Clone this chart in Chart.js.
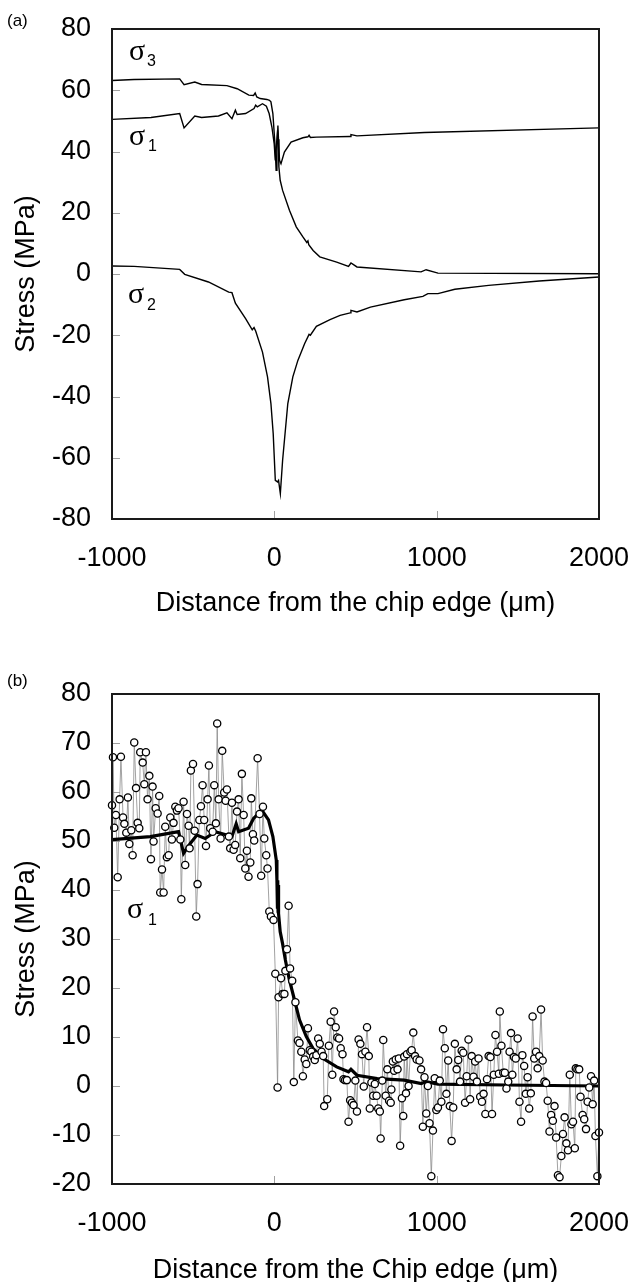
<!DOCTYPE html>
<html><head><meta charset="utf-8">
<script src="https://cdn.jsdelivr.net/npm/chart.js@4.4.0/dist/chart.umd.min.js"></script>
<style>
html,body{margin:0;padding:0;background:#fff;}
body{width:632px;height:1282px;position:relative;overflow:hidden;}
#wa{position:absolute;left:0;top:0;width:632px;height:620px;}
#wb{position:absolute;left:0;top:620px;width:632px;height:662px;}
canvas{display:block;}
</style></head><body>
<div id="wa"><canvas id="ca" width="632" height="620"></canvas></div>
<div id="wb"><canvas id="cb" width="632" height="662"></canvas></div>
<script>
// ---------------- data ----------------
const xTicks = [-1000, 0, 1000, 2000];
const yTicksA = [-80, -60, -40, -20, 0, 20, 40, 60, 80];
const yTicksB = [-20, -10, 0, 10, 20, 30, 40, 50, 60, 70, 80];
const xTitleA = 'Distance from the chip edge (\u03bcm)';
const xTitleB = 'Distance from the Chip edge (\u03bcm)';
const yTitle = 'Stress (MPa)';

// panel (a): principal stresses  [distance (um), stress (MPa)]
const sigma3A = [[-1000,63.2],[-864,63.5],[-583,63.7],[-556,61.8],[-490,62.7],[-448,61.9],[-292,61.5],[-229,60.5],[-157,58.4],[-128,58.3],[-118,59.1],[-108,57.8],[-87,57.3],[-46,57.0],[-30,56.7],[-21,56.2],[-9,52.4],[5,41.5],[11,33.9],[16,40],[22,48.5],[27,42],[32,37.1],[41,36.0],[62,39.8],[103,43.1],[176,44.5],[207,44.8],[214,45.3],[222,44.6],[259,44.7],[467,44.9],[472,45.5],[509,45.1],[925,46.2],[2000,47.7]];
const sigma1A = [[-1000,50.5],[-760,51.1],[-583,52.4],[-556,47.7],[-490,51.6],[-448,51.1],[-344,51.6],[-292,52.6],[-261,50.7],[-240,53.5],[-229,52.1],[-177,52.4],[-125,54.0],[-115,55.1],[-105,54.6],[-73,55.6],[-49,54.8],[-32,52.4],[-15,48.0],[-1,42.6],[6,37.1],[13,42.0],[20,46.9],[24,44],[28,35.0],[36,30.6],[51,27.3],[93,20.8],[135,15.4],[176,12.1],[200,10.3],[207,10.8],[212,9.6],[239,7.7],[280,5.6],[384,3.9],[457,2.5],[472,3.6],[509,2.3],[904,0.7],[935,1.4],[1008,0.3],[2000,0.1]];
const sigma2A = [[-1000,2.6],[-864,2.5],[-583,1.5],[-552,-0.1],[-406,-2.6],[-281,-5.9],[-261,-6.1],[-240,-9.5],[-177,-14.6],[-136,-18.2],[-125,-17.5],[-115,-18.6],[-73,-25.5],[-42,-33.6],[-21,-42.3],[-7,-52.1],[6,-67.4],[20,-67.9],[26,-67.4],[37,-71.7],[51,-60.8],[83,-42.3],[114,-33.6],[145,-28.2],[187,-22.7],[214,-19.7],[222,-20.0],[259,-17.1],[343,-14.9],[405,-13.5],[467,-12.7],[472,-11.9],[509,-12.4],[592,-10.8],[800,-8.4],[915,-7.3],[946,-6.4],[1008,-6.4],[1112,-5.0],[1320,-3.7],[1632,-2.3],[2000,-1.0]];

// panel (b): measured sigma1 and fitted curve
const sigma1Measured = [[-1000,57.3],[-994,67.1],[-986,52.7],[-976,55.3],[-965,42.6],[-953,58.5],[-945,67.2],[-932,54.8],[-924,53.5],[-912,51.7],[-902,58.9],[-893,49.4],[-881,52.2],[-873,47.1],[-863,70.1],[-852,60.8],[-842,53.7],[-832,52.6],[-826,68.1],[-811,66.0],[-801,61.6],[-791,68.1],[-781,58.5],[-770,63.3],[-760,46.3],[-750,61.1],[-744,49.9],[-731,56.7],[-719,55.6],[-709,59.2],[-703,39.5],[-692,44.2],[-682,39.5],[-672,52.9],[-662,46.7],[-651,47.1],[-641,54.8],[-631,50.3],[-621,53.7],[-610,57.0],[-600,56.2],[-590,56.7],[-579,50.3],[-573,38.1],[-559,58.0],[-549,45.1],[-538,55.5],[-528,53.1],[-522,48.5],[-514,64.4],[-501,65.7],[-491,52.1],[-481,34.6],[-473,41.2],[-462,54.3],[-452,57.1],[-442,61.4],[-432,54.3],[-421,49.0],[-411,58.5],[-403,65.4],[-395,52.6],[-380,51.9],[-370,61.4],[-360,53.6],[-352,74.0],[-343,58.5],[-331,50.5],[-321,68.4],[-309,59.9],[-300,58.2],[-292,60.5],[-280,50.9],[-272,48.5],[-261,57.8],[-251,48.2],[-241,49.2],[-230,56.0],[-220,58.5],[-210,46.5],[-200,63.7],[-189,55.3],[-179,44.4],[-169,48.0],[-159,42.7],[-148,45.6],[-142,58.7],[-132,51.4],[-124,50.1],[-103,66.9],[-91,55.5],[-81,42.9],[-70,57.0],[-62,50.5],[-50,47.1],[-42,44.4],[-31,35.6],[-21,34.6],[-5,33.9],[6,22.9],[20,-0.3],[26,18.1],[41,22.0],[51,18.8],[62,18.8],[68,23.5],[78,27.9],[88,36.8],[97,24.0],[110,21.5],[120,0.8],[130,17.1],[145,9.3],[155,8.8],[166,7.0],[176,2.0],[187,5.4],[197,4.5],[207,11.8],[218,7.3],[228,7.0],[239,6.0],[249,5.3],[259,6.3],[270,9.7],[280,8.6],[291,7.0],[301,6.1],[307,-4.1],[326,-2.7],[336,8.2],[347,13.1],[357,2.3],[368,15.2],[378,12.0],[388,9.9],[399,9.7],[409,7.7],[420,6.5],[426,1.4],[436,1.2],[447,1.2],[457,-7.3],[467,-2.9],[478,-3.4],[488,-3.9],[499,1.1],[509,-5.2],[519,9.5],[530,8.6],[540,6.5],[551,-0.1],[561,7.0],[571,12.0],[582,6.1],[588,-4.6],[598,0.7],[609,-2.0],[619,0.4],[630,-2.0],[640,-4.6],[650,-5.2],[655,-10.7],[665,1.1],[671,9.4],[686,-2.0],[696,3.4],[707,-3.0],[717,-3.4],[721,-0.7],[730,5.0],[738,3.1],[748,5.4],[759,3.4],[767,5.6],[775,-12.2],[786,-2.5],[794,-6.1],[800,6.0],[811,-1.5],[817,6.5],[827,0.0],[838,7.0],[846,7.3],[856,10.9],[867,6.1],[877,5.4],[894,5.2],[904,3.4],[915,-8.3],[925,1.8],[936,-5.6],[946,0.0],[956,-7.6],[967,-18.4],[977,-9.1],[988,1.6],[998,-4.9],[1008,-4.4],[1019,1.1],[1029,-3.2],[1039,11.6],[1050,7.7],[1060,-1.6],[1071,5.2],[1081,-4.1],[1092,-11.2],[1102,-4.4],[1112,8.6],[1123,3.4],[1133,5.3],[1144,0.9],[1154,7.2],[1164,6.8],[1175,-3.4],[1185,2.0],[1196,9.5],[1206,-2.7],[1216,6.1],[1227,1.9],[1237,5.0],[1248,0.9],[1258,5.6],[1268,-2.2],[1279,-3.2],[1289,-1.6],[1300,-5.7],[1310,1.4],[1320,6.1],[1331,5.9],[1341,-5.7],[1352,2.3],[1362,10.4],[1372,7.0],[1383,2.5],[1389,15.2],[1399,8.2],[1410,2.7],[1420,2.7],[1430,-0.5],[1441,0.9],[1449,7.0],[1458,10.8],[1466,2.3],[1476,5.9],[1487,5.6],[1499,9.7],[1510,-3.2],[1520,-7.3],[1528,6.3],[1539,4.1],[1549,-1.6],[1560,1.8],[1570,-4.6],[1580,-1.5],[1591,14.2],[1601,5.6],[1612,7.0],[1622,3.6],[1632,6.1],[1643,15.6],[1653,5.2],[1664,0.9],[1674,0.6],[1684,-3.0],[1695,-9.3],[1705,-5.9],[1716,-7.1],[1726,-4.1],[1736,-10.5],[1747,-18.2],[1757,-18.6],[1768,-14.3],[1778,-9.8],[1788,-6.4],[1799,-11.7],[1809,-13.1],[1820,2.3],[1830,-7.8],[1840,-7.3],[1851,-12.7],[1857,3.6],[1867,3.4],[1878,3.4],[1886,-2.2],[1899,-5.9],[1909,-6.8],[1920,-8.8],[1930,-3.2],[1940,-0.3],[1951,2.0],[1961,-3.7],[1970,1.1],[1978,-10.2],[1990,-18.4],[2000,-9.5]];
const sigma1Fit = [[-1000,50.3],[-764,50.9],[-590,51.9],[-559,47.5],[-518,49.5],[-477,51.2],[-426,50.5],[-364,51.9],[-261,50.9],[-235,53.5],[-220,51.9],[-159,52.6],[-128,54.6],[-97,55.6],[-67,55.8],[-36,54.3],[-9,50.9],[12,46.1],[16,42.0],[19,36.5],[21,42.0],[23,35.5],[25,41.0],[27,35.2],[36,31.5],[51,29.0],[68,25.7],[93,21.6],[124,17.6],[155,13.5],[197,10.1],[238,7.7],[301,5.6],[384,3.9],[457,2.9],[472,3.4],[509,2.2],[634,1.5],[800,1.2],[905,0.5],[935,0.9],[1008,0.4],[1424,0.2],[2000,0.0]];

// ---------------- rendering ----------------
const FONT = "'Liberation Sans', Arial, sans-serif";
const toXY = arr => arr.map(p => ({x: p[0], y: p[1]}));

const framePlugin = {
  id: 'frame',
  beforeDatasetsDraw(chart) {
    const {ctx, chartArea: a, scales} = chart;
    ctx.save();
    ctx.strokeStyle = '#a0a0a0';
    ctx.lineWidth = 1;
    scales.y.ticks.forEach(t => {
      if (t.value <= scales.y.min || t.value >= scales.y.max) return;
      const py = Math.round(scales.y.getPixelForValue(t.value)) + 0.5;
      ctx.beginPath(); ctx.moveTo(a.left, py); ctx.lineTo(a.left + 8, py); ctx.stroke();
    });
    scales.x.ticks.forEach(t => {
      if (t.value <= scales.x.min || t.value >= scales.x.max) return;
      const px = Math.round(scales.x.getPixelForValue(t.value)) + 0.5;
      ctx.beginPath(); ctx.moveTo(px, a.bottom); ctx.lineTo(px, a.bottom - 8); ctx.stroke();
    });
    ctx.restore();
  },
  afterDatasetsDraw(chart, args, opts) {
    const {ctx, chartArea: a} = chart;
    ctx.save();
    ctx.strokeStyle = '#1a1a1a';
    ctx.lineWidth = 2;
    ctx.strokeRect(a.left, a.top, a.right - a.left, a.bottom - a.top);
    ctx.fillStyle = '#000';
    ctx.textBaseline = 'alphabetic';
    (opts.texts || []).forEach(t => {
      ctx.font = t.font;
      ctx.fillText(t.text, t.x, t.y);
    });
    ctx.restore();
  }
};

function scalesFor(yTicks, xTitle, xH, xTitlePad) {
  return {
    x: {
      type: 'linear', min: xTicks[0], max: xTicks[xTicks.length - 1],
      afterBuildTicks: s => { s.ticks = xTicks.map(v => ({value: v})); },
      ticks: {padding: 23, color: '#000', font: {family: FONT, size: 27}, maxRotation: 0, autoSkip: false,
              callback: v => String(v)},
      grid: {display: false, drawTicks: false}, border: {display: false},
      title: {display: true, text: xTitle, color: '#000', font: {family: FONT, size: 27, lineHeight: 0.8}, padding: {top: 0, bottom: xTitlePad}},
      afterFit: s => { s.height = xH; s.paddingLeft = 0; s.paddingRight = 0; }
    },
    y: {
      type: 'linear', min: yTicks[0], max: yTicks[yTicks.length - 1],
      afterBuildTicks: s => { s.ticks = yTicks.map(v => ({value: v})); },
      ticks: {padding: 21, color: '#000', font: {family: FONT, size: 27}, autoSkip: false,
              callback: v => String(v)},
      grid: {display: false, drawTicks: false}, border: {display: false},
      title: {display: true, text: yTitle, color: '#000', font: {family: FONT, size: 27, lineHeight: 0.8}, padding: {top: 16, bottom: 0}},
      afterFit: s => { s.width = 112; s.paddingTop = 0; s.paddingBottom = 0; }
    }
  };
}

Chart.defaults.font.family = FONT;
Chart.defaults.color = '#000';

const lineDs = (data, w) => ({
  data: toXY(data), showLine: true, borderColor: '#000', borderWidth: w,
  pointRadius: 0, pointHoverRadius: 0, tension: 0, fill: false
});

const SIG = "30px 'Liberation Serif', 'Times New Roman', serif";
const SUB = "16px 'Liberation Sans', Arial, sans-serif";

new Chart(document.getElementById('ca'), {
  type: 'scatter',
  data: {datasets: [lineDs(sigma3A, 1.4), lineDs(sigma1A, 1.4), lineDs(sigma2A, 1.4)]},
  options: {
    responsive: false, animation: false, devicePixelRatio: 1,
    layout: {padding: {top: 29, right: 33, bottom: 0, left: 0}},
    scales: scalesFor(yTicksA, xTitleA, 101, 5.6),
    plugins: {
      legend: {display: false}, tooltip: {enabled: false},
      frame: {texts: [
        {text: '(a)', x: 7, y: 26, font: "17px 'Liberation Sans', Arial, sans-serif"},
        {text: '\u03c3', x: 129, y: 60, font: SIG}, {text: '3', x: 147, y: 66, font: SUB},
        {text: '\u03c3', x: 129, y: 145, font: SIG}, {text: '1', x: 148, y: 151, font: SUB},
        {text: '\u03c3', x: 128, y: 303, font: SIG}, {text: '2', x: 147, y: 310, font: SUB}
      ]}
    }
  },
  plugins: [framePlugin]
});

new Chart(document.getElementById('cb'), {
  type: 'scatter',
  data: {datasets: [
    {data: toXY(sigma1Measured), showLine: false, pointRadius: 3.6, pointBorderWidth: 1.3,
     pointBackgroundColor: '#fff', pointBorderColor: '#000', clip: 8},
    lineDs(sigma1Fit, 3.2),
    {data: toXY(sigma1Measured), showLine: true, borderColor: '#8a8a8a', borderWidth: 0.8,
     pointRadius: 0, tension: 0, fill: false, clip: 4}
  ]},
  options: {
    responsive: false, animation: false, devicePixelRatio: 1,
    layout: {padding: {top: 74, right: 33, bottom: 0, left: 0}},
    scales: scalesFor(yTicksB, xTitleB, 98, 1),
    plugins: {
      legend: {display: false}, tooltip: {enabled: false},
      frame: {texts: [
        {text: '(b)', x: 7, y: 66, font: "17px 'Liberation Sans', Arial, sans-serif"},
        {text: '\u03c3', x: 127, y: 298, font: SIG}, {text: '1', x: 148, y: 305, font: SUB}
      ]}
    }
  },
  plugins: [framePlugin]
});
</script></body></html>
